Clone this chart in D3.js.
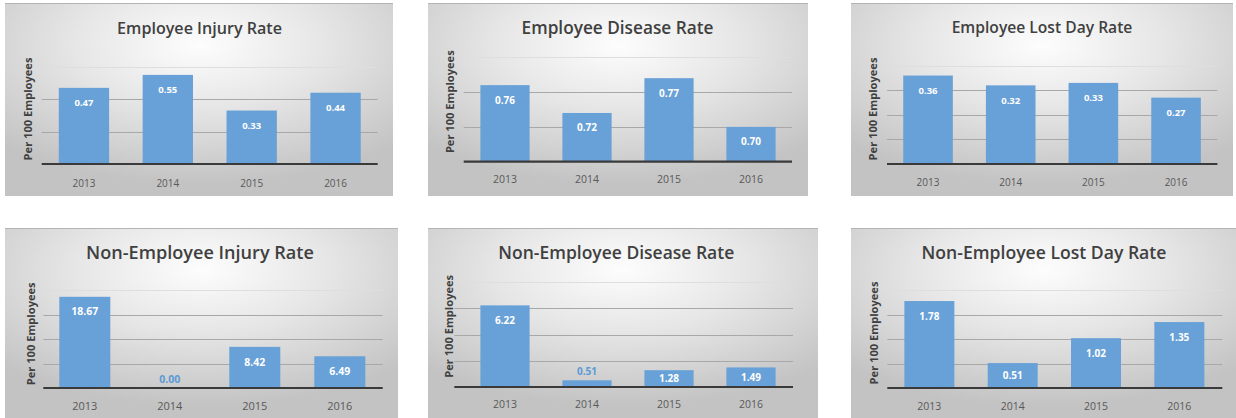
<!DOCTYPE html>
<html>
<head>
<meta charset="utf-8">
<script src="https://cdn.jsdelivr.net/npm/d3@7/dist/d3.min.js"></script>
<style>
  html, body { margin: 0; padding: 0; background: #ffffff; }
  svg { display: block; }
  text { font-family: "Open Sans", "Noto Sans", sans-serif; }
</style>
</head>
<body>
<svg id="chart" width="1236" height="418"></svg>
<script>
// Safety rates, per 100 employees, 2013–2016
const years = ["2013", "2014", "2015", "2016"];

const titles = [
  "Employee Injury Rate",
  "Employee Disease Rate",
  "Employee Lost Day Rate",
  "Non-Employee Injury Rate",
  "Non-Employee Disease Rate",
  "Non-Employee Lost Day Rate"
];

const employeeInjury     = [0.47, 0.55, 0.33, 0.44];
const employeeDisease    = [0.76, 0.72, 0.77, 0.70];
const employeeLostDay    = [0.36, 0.32, 0.33, 0.27];
const nonEmployeeInjury  = [18.67, 0.00, 8.42, 6.49];
const nonEmployeeDisease = [6.22, 0.51, 1.28, 1.49];
const nonEmployeeLostDay = [1.78, 0.51, 1.02, 1.35];

// value-axis minimum and gridline values for each chart
const axisMin = [0, 0.65, 0, 0, 0, 0];
const gridTicks = [
  [0.2, 0.4, 0.6],
  [0.70, 0.75, 0.80],
  [0.1, 0.2, 0.3, 0.4],
  [5, 10, 15, 20],
  [2, 4, 6, 8],
  [0.5, 1.0, 1.5, 2.0]
];

const axisLabel = "Per 100 Employees";

const seriesList = [employeeInjury, employeeDisease, employeeLostDay,
                    nonEmployeeInjury, nonEmployeeDisease, nonEmployeeLostDay];

// panel geometry (frame, plot extents, text anchors)
const panels = [
  { bg: [5, 3, 393, 196],    band: [42, 377.5],  grid: [41.7, 377.7], base: 164,   top: 66.8,
    title: [199.5, 28, 165, 15], years: 183, yearSize: 10, ylab: [28.3, 109], valSize: 9.5 },
  { bg: [428, 3, 808, 196],  band: [464, 792],   grid: [463.7, 792],  base: 161.7, top: 57.3,
    title: [617.5, 28, 192, 17], years: 179, yearSize: 10.5, ylab: [449.7, 101.7], valSize: 10 },
  { bg: [851, 3, 1233, 196], band: [886.7, 1217.4], grid: [887, 1217.4], base: 164, top: 65.7,
    title: [1042, 28, 181, 15], years: 182.7, yearSize: 10, ylab: [873.3, 109], valSize: 9.5 },
  { bg: [5, 228, 398, 418],  band: [42.3, 382.3], grid: [43.3, 382.7], base: 388, top: 290.3,
    title: [200, 253, 228, 18], years: 406.3, yearSize: 11, ylab: [31, 333.8], valSize: 10.5 },
  { bg: [428, 228, 818, 418], band: [464, 792],   grid: [454.3, 793],  base: 387,  top: 282,
    title: [616.3, 253, 236, 18], years: 404, yearSize: 10.5, ylab: [449.3, 326.3], valSize: 10 },
  { bg: [851, 228, 1236, 418], band: [887.7, 1221], grid: [887.3, 1222.3], base: 388, top: 290.3,
    title: [1044, 253, 245, 18], years: 406.3, yearSize: 10.5, ylab: [874, 333], valSize: 10 }
];

const svg = d3.select("#chart");
const defs = svg.append("defs");

const grad = defs.append("radialGradient")
  .attr("id", "panelBg")
  .attr("cx", "50%").attr("cy", "22%").attr("r", "72%")
  .attr("fx", "50%").attr("fy", "22%");
grad.append("stop").attr("offset", "0%").attr("stop-color", "#fdfdfd");
grad.append("stop").attr("offset", "45%").attr("stop-color", "#e6e6e6");
grad.append("stop").attr("offset", "100%").attr("stop-color", "#c3c3c3");

function fitText(sel, width) {
  const len = sel.node().getComputedTextLength();
  const fs = parseFloat(sel.attr("font-size"));
  if (len > 0) sel.attr("font-size", fs * width / len);
}

panels.forEach((p, i) => {
  const values = seriesList[i];
  const g = svg.append("g");

  const [x0, y0, x1, y1] = p.bg;
  g.append("rect")
    .attr("x", x0).attr("y", y0)
    .attr("width", x1 - x0).attr("height", y1 - y0)
    .attr("fill", "url(#panelBg)");
  g.append("line")
    .attr("x1", x0).attr("x2", x1).attr("y1", y0 + 0.5).attr("y2", y0 + 0.5)
    .attr("stroke", "#b4b4b4").attr("stroke-width", 1);

  const x = d3.scaleBand().domain(years).range(p.band)
    .paddingInner(0.4).paddingOuter(0.2);
  const maxTick = d3.max(gridTicks[i]);
  const y = d3.scaleLinear().domain([axisMin[i], maxTick]).range([p.base, p.top]);

  // gridlines (the topmost one is drawn lighter)
  g.append("g").selectAll("line")
    .data(gridTicks[i])
    .join("line")
    .attr("x1", p.grid[0]).attr("x2", p.grid[1])
    .attr("y1", d => Math.round(y(d)) + 0.5).attr("y2", d => Math.round(y(d)) + 0.5)
    .attr("stroke", d => d === maxTick ? "#dedede" : "#a8a8a8")
    .attr("stroke-width", 1);

  // bars
  g.append("g").selectAll("rect")
    .data(values)
    .join("rect")
    .attr("x", (d, j) => x(years[j]))
    .attr("width", x.bandwidth())
    .attr("y", d => y(d))
    .attr("height", d => p.base - y(d))
    .attr("fill", "#68a1d8");

  // category axis
  const xAxis = d3.axisBottom(x).tickSize(0).tickPadding(0);
  const ax = g.append("g").attr("transform", `translate(0,${p.base})`).call(xAxis);
  ax.select(".domain").remove();
  ax.selectAll("text")
    .attr("y", p.years - p.base)
    .attr("dy", "0.35em")
    .attr("font-size", p.yearSize)
    .attr("fill", "#595959")
    .style("font-family", "'Open Sans', sans-serif");

  // baseline
  g.append("line")
    .attr("x1", p.grid[0]).attr("x2", p.grid[1])
    .attr("y1", p.base).attr("y2", p.base)
    .attr("stroke", "#3a3a3a").attr("stroke-width", 2.2);

  // value labels
  g.append("g").selectAll("text")
    .data(values)
    .join("text")
    .attr("x", (d, j) => x(years[j]) + x.bandwidth() / 2)
    .attr("y", d => {
      const h = p.base - y(d);
      if (h < 12) return y(d) - 9;
      return y(d) + Math.min(15, h / 2);
    })
    .attr("dy", "0.35em")
    .attr("text-anchor", "middle")
    .attr("font-size", p.valSize)
    .attr("font-weight", 700)
    .attr("fill", d => (p.base - y(d)) < 12 ? "#5a9ad6" : "#ffffff")
    .text(d => d.toFixed(2));

  // chart title
  const t = g.append("text")
    .attr("x", p.title[0]).attr("y", p.title[1])
    .attr("dy", "0.35em")
    .attr("text-anchor", "middle")
    .attr("font-size", p.title[3])
    .attr("font-weight", 600)
    .attr("fill", "#404040")
    .text(titles[i]);
  fitText(t, p.title[2]);

  // value-axis title
  const yl = g.append("text")
    .attr("transform", `translate(${p.ylab[0]},${p.ylab[1]}) rotate(-90)`)
    .attr("dy", "0.35em")
    .attr("text-anchor", "middle")
    .attr("font-size", 9.5)
    .attr("font-weight", 700)
    .attr("fill", "#404040")
    .text(axisLabel);
  fitText(yl, 103);
});
</script>
</body>
</html>
